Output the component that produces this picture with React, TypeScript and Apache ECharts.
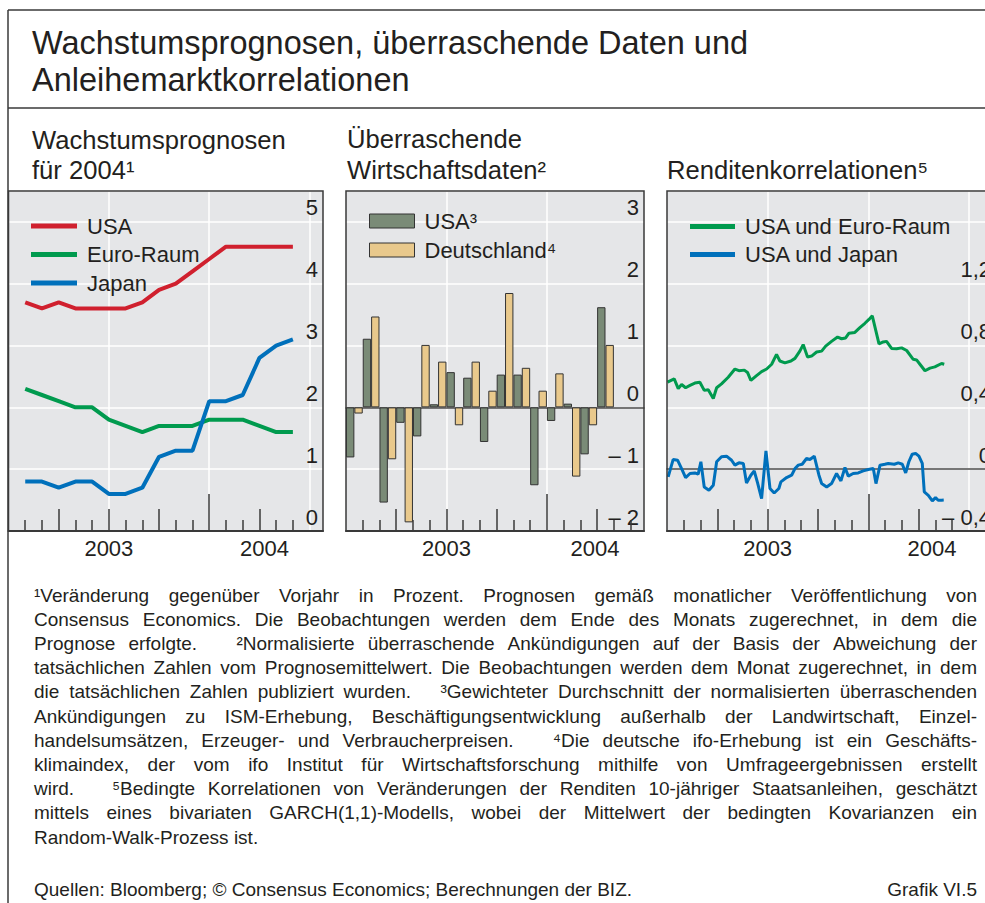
import React, { useEffect, useRef } from 'react';
import * as echarts from 'echarts';

const FONT = "'Liberation Sans', Arial, Helvetica, sans-serif";
const TEXT = '#231f20';
const FRAME = '#3a3a3a';
const PLOT_BG = '#e5e6e8';

// ---------- Panel 1: Wachstumsprognosen für 2004 (end-of-month observations) ----------
const forecastMonths = [
  '2003-01', '2003-02', '2003-03', '2003-04', '2003-05', '2003-06', '2003-07', '2003-08', '2003-09',
  '2003-10', '2003-11', '2003-12', '2004-01', '2004-02', '2004-03', '2004-04', '2004-05',
];
const forecastUSA = [3.7, 3.6, 3.7, 3.6, 3.6, 3.6, 3.6, 3.7, 3.9, 4.0, 4.2, 4.4, 4.6, 4.6, 4.6, 4.6, 4.6];
const forecastEuro = [2.3, 2.2, 2.1, 2.0, 2.0, 1.8, 1.7, 1.6, 1.7, 1.7, 1.7, 1.8, 1.8, 1.8, 1.7, 1.6, 1.6];
const forecastJapan = [0.8, 0.8, 0.7, 0.8, 0.8, 0.6, 0.6, 0.7, 1.2, 1.3, 1.3, 2.1, 2.1, 2.2, 2.8, 3.0, 3.1];

// ---------- Panel 2: Überraschende Wirtschaftsdaten (monthly) ----------
const surpriseMonths = [
  '2003-01', '2003-02', '2003-03', '2003-04', '2003-05', '2003-06', '2003-07', '2003-08',
  '2003-09', '2003-10', '2003-11', '2003-12', '2004-01', '2004-02', '2004-03', '2004-04',
];
const surpriseUSA = [-0.81, 1.11, -1.54, -0.25, -0.47, 0.05, 0.57, 0.48, -0.56, 0.53, 0.53, -1.26, -0.22, 0.06, -0.76, 1.62];
const surpriseDE = [-0.1, 1.47, -0.84, -1.86, 1.01, 0.74, -0.29, 0.74, 0.27, 1.85, 0.64, 0.27, 0.55, -1.12, -0.29, 1.01];

// ---------- Panel 3: Renditenkorrelationen [months since 1 Jan 2003, correlation] ----------
const corrUSEuro: [number, number][] = [
  [0.03, 0.563], [0.43, 0.584], [0.67, 0.521], [0.87, 0.548], [1.11, 0.527], [1.37, 0.542], [1.66, 0.557],
  [1.96, 0.563], [2.22, 0.51], [2.46, 0.514], [2.76, 0.457], [2.96, 0.527], [3.25, 0.552], [3.65, 0.595],
  [4.05, 0.648], [4.29, 0.637], [4.61, 0.641], [4.8, 0.626], [5.0, 0.574], [5.34, 0.605], [5.64, 0.631],
  [5.94, 0.648], [6.24, 0.679], [6.53, 0.743], [6.73, 0.7], [7.03, 0.688], [7.39, 0.7], [7.63, 0.717],
  [7.92, 0.764], [8.12, 0.806], [8.38, 0.726], [8.62, 0.732], [8.92, 0.758], [9.22, 0.764], [9.46, 0.796],
  [9.81, 0.827], [10.17, 0.855], [10.41, 0.844], [10.65, 0.849], [10.85, 0.88], [11.2, 0.885], [11.5, 0.916],
  [11.8, 0.944], [12.04, 0.969], [12.24, 0.992], [12.64, 0.811], [12.89, 0.823], [13.09, 0.827], [13.39, 0.781],
  [13.69, 0.779], [13.99, 0.785], [14.29, 0.768], [14.68, 0.711], [14.88, 0.707], [15.08, 0.679], [15.38, 0.637],
  [15.68, 0.654], [15.97, 0.662], [16.37, 0.684], [16.53, 0.679],
];
const corrUSJapan: [number, number][] = [
  [0.07, -0.05], [0.37, 0.063], [0.63, 0.058], [0.87, 0.004], [1.11, -0.054], [1.37, -0.028], [1.66, -0.024],
  [1.86, -0.032], [2.02, 0.048], [2.22, -0.115], [2.5, -0.136], [2.76, -0.104], [2.96, 0.048], [3.25, 0.08],
  [3.55, 0.084], [3.85, 0.058], [4.05, 0.026], [4.29, 0.041], [4.55, 0.037], [4.74, -0.089], [5.0, -0.039],
  [5.2, -0.011], [5.4, -0.089], [5.64, -0.19], [5.9, 0.119], [6.14, -0.125], [6.39, -0.154], [6.67, -0.125],
  [6.79, -0.082], [7.13, -0.054], [7.43, -0.039], [7.63, 0.004], [7.83, 0.026], [8.06, 0.032], [8.32, 0.069],
  [8.52, 0.063], [8.78, 0.084], [9.06, -0.039], [9.22, -0.093], [9.52, -0.115], [9.81, -0.093], [10.11, -0.028],
  [10.37, -0.076], [10.61, 0.011], [10.81, -0.045], [11.1, -0.028], [11.4, -0.024], [11.7, -0.011], [12.0, -0.002],
  [12.3, 0.004], [12.46, -0.093], [12.7, 0.026], [12.99, 0.032], [13.19, 0.037], [13.55, 0.032], [13.79, 0.041],
  [14.03, 0.032], [14.23, -0.024], [14.42, 0.048], [14.62, 0.097], [14.82, 0.102], [15.02, 0.084], [15.22, 0.037],
  [15.34, -0.147], [15.58, -0.169], [15.82, -0.205], [16.01, -0.184], [16.17, -0.201], [16.37, -0.201], [16.5, -0.2],
];

// ---------- Axis ticks / labels ----------
const yearLabels = ['2003', '2004'];
const monthTicks = [1, 2, 4, 5, 7, 8, 10, 11, 13, 14, 16, 17];
const quarterTicks = [3, 6, 9, 15];
const yearTicks = [12];
const halfYearLines = [6, 12, 18];
const yTicks1 = [0, 1, 2, 3, 4, 5];
const yTicks2 = [-2, -1, 0, 1, 2, 3];
const yTicks3 = [-0.4, 0, 0.4, 0.8, 1.2];

// ---------- Texts ----------
const titleLines = ['Wachstumsprognosen, überraschende Daten und', 'Anleihemarktkorrelationen'];
const footnoteLines = [
  '¹Veränderung gegenüber Vorjahr in Prozent. Prognosen gemäß monatlicher Veröffentlichung von',
  'Consensus Economics. Die Beobachtungen werden dem Ende des Monats zugerechnet, in dem die',
  'Prognose erfolgte.   ²Normalisierte überraschende Ankündigungen auf der Basis der Abweichung der',
  'tatsächlichen Zahlen vom Prognosemittelwert. Die Beobachtungen werden dem Monat zugerechnet, in dem',
  'die tatsächlichen Zahlen publiziert wurden.   ³Gewichteter Durchschnitt der normalisierten überraschenden',
  'Ankündigungen zu ISM-Erhebung, Beschäftigungsentwicklung außerhalb der Landwirtschaft, Einzel-',
  'handelsumsätzen, Erzeuger- und Verbraucherpreisen.   ⁴Die deutsche ifo-Erhebung ist ein Geschäfts-',
  'klimaindex, der vom ifo Institut für Wirtschaftsforschung mithilfe von Umfrageergebnissen erstellt',
  'wird.   ⁵Bedingte Korrelationen von Veränderungen der Renditen 10-jähriger Staatsanleihen, geschätzt',
  'mittels eines bivariaten GARCH(1,1)-Modells, wobei der Mittelwert der bedingten Kovarianzen ein',
  'Random-Walk-Prozess ist.',
];
const sourceText = 'Quellen: Bloomberg; © Consensus Economics; Berechnungen der BIZ.';
const chartId = 'Grafik VI.5';

const FN_LEFT = 34;
const FN_WIDTH = 943;
const FN_TOP = 595;
const FN_STEP = 24.2;
const FN_SIZE = 19;

function monthIdx(s: string) {
  const [y, m] = s.split('-').map(Number);
  return (y - 2003) * 12 + (m - 1);
}

const tickLine = { color: FRAME, width: 1.5 };

function panelXAxes(gi: number, max: number, pos2004: number, zeroLine: boolean) {
  const base: any = {
    type: 'value', gridIndex: gi, min: 0, max, position: 'bottom',
    axisLine: { show: false, onZero: false }, axisTick: { show: false },
    axisLabel: { show: false }, splitLine: { show: false },
  };
  const axes: any[] = [
    {
      ...base, z: 1,
      axisLine: { show: true, onZero: false, lineStyle: { color: FRAME, width: 2 } },
      axisTick: { show: true, inside: true, length: 11, customValues: monthTicks, lineStyle: tickLine },
      axisLabel: {
        show: true, customValues: [6, pos2004],
        formatter: (v: number) => (v === 6 ? yearLabels[0] : yearLabels[1]),
        fontSize: 22, fontFamily: FONT, color: TEXT, margin: 6,
      },
    },
    { ...base, z: 1, axisTick: { show: true, inside: true, length: 22, customValues: quarterTicks, lineStyle: tickLine } },
    { ...base, z: 1, axisTick: { show: true, inside: true, length: 37, customValues: yearTicks, lineStyle: tickLine } },
    {
      ...base, interval: 6,
      axisTick: { show: false, customValues: halfYearLines },
      splitLine: { show: true, lineStyle: { color: '#ffffff', width: 1.5 } },
    },
  ];
  if (zeroLine) {
    axes.push({ ...base, z: 1, axisLine: { show: true, onZero: true, lineStyle: { color: '#4a4a4a', width: 1.5 } } });
  }
  return axes;
}

function panelYAxis(
  gi: number, min: number, max: number, interval: number, labels: number[],
  fmt: (v: number) => string, offset = 0,
) {
  return {
    type: 'value', gridIndex: gi, position: 'right', offset, min, max, interval,
    axisLine: { show: false, onZero: false }, axisTick: { show: false },
    splitLine: { show: true, lineStyle: { color: '#ffffff', width: 1.5 } },
    axisLabel: {
      inside: true, customValues: labels, formatter: fmt, fontSize: 22, fontFamily: FONT, color: TEXT,
      margin: 5, verticalAlign: 'bottom', padding: [0, 0, 3, 0],
    },
  };
}

const fmtInt = (v: number) => (v < 0 ? '– ' + Math.abs(v) : String(v));
const fmtDec = (v: number) => {
  if (Math.abs(v) < 1e-9) return '0';
  const s = Math.abs(v).toFixed(1).replace('.', ',');
  return v < 0 ? '– ' + s : s;
};

function buildTextGraphics() {
  const els: any[] = [];
  const txt = (text: string, x: number, y: number, size: number, align = 'left') => ({
    type: 'text', x, y, z: 100, silent: true,
    style: { text, fontSize: size, fontFamily: FONT, fill: TEXT, align, verticalAlign: 'middle' },
  });
  els.push(txt(titleLines[0], 32, 43, 32.5));
  els.push(txt(titleLines[1], 32, 80, 32.5));
  els.push(txt('Wachstumsprognosen', 32, 140, 25.6));
  els.push(txt('für 2004¹', 32, 170, 25.6));
  els.push(txt('Überraschende', 347, 139, 25.6));
  els.push(txt('Wirtschaftsdaten²', 347, 170, 25.6));
  els.push(txt('Renditenkorrelationen⁵', 667, 170, 25.6));

  const ctx = document.createElement('canvas').getContext('2d')!;
  ctx.font = `${FN_SIZE}px ${FONT}`;
  const spaceW = ctx.measureText(' ').width;
  footnoteLines.forEach((line, i) => {
    const y = FN_TOP + i * FN_STEP;
    const words: string[] = [];
    const gaps: number[] = [];
    const re = /(\s*)(\S+)/g;
    let m: RegExpExecArray | null;
    while ((m = re.exec(line))) {
      if (words.length) gaps.push(m[1].length);
      words.push(m[2]);
    }
    const ww = words.map((w) => ctx.measureText(w).width);
    const spaces = gaps.reduce((a, b) => a + b, 0);
    const natural = ww.reduce((a, b) => a + b, 0) + spaces * spaceW;
    const justify = i < footnoteLines.length - 1;
    let extra = 0;
    let scale = 1;
    if (natural > FN_WIDTH) scale = FN_WIDTH / natural;
    else if (justify && spaces) extra = (FN_WIDTH - natural) / spaces;
    let cur = 0;
    words.forEach((w, k) => {
      const el: any = txt(w, FN_LEFT + cur * scale, y, FN_SIZE);
      el.scaleX = scale;
      els.push(el);
      cur += ww[k] + (k < gaps.length ? gaps[k] * (spaceW + extra) : 0);
    });
  });
  els.push(txt(sourceText, FN_LEFT, 889, FN_SIZE));
  els.push(txt(chartId, 977, 889, FN_SIZE, 'right'));

  // frames
  const ln = (x1: number, y1: number, x2: number, y2: number, w = 1.5) => ({
    type: 'line', z: 100, silent: true, shape: { x1, y1, x2, y2 }, style: { stroke: FRAME, lineWidth: w },
  });
  els.push(ln(8, 10, 985, 10));
  els.push(ln(8, 10, 8, 903));
  els.push(ln(8, 108, 985, 108));
  const frame = (x: number, w: number) => ({
    type: 'rect', z: 100, silent: true, shape: { x, y: 191, width: w, height: 340 },
    style: { fill: 'none', stroke: FRAME, lineWidth: 1.5 },
  });
  els.push(frame(8.5, 314.5));
  els.push(frame(346, 298));
  els.push(frame(667, 329));
  return els;
}

function buildOption(): any {
  const grids = [
    { left: 8.5, top: 191, width: 314.5, height: 340 },
    { left: 346, top: 191, width: 298, height: 340 },
    { left: 667, top: 191, width: 318, height: 340 },
  ].map((g) => ({
    ...g, show: true, backgroundColor: PLOT_BG, borderWidth: 0, containLabel: false, outerBoundsMode: 'none',
  }));

  const xAxis = [
    ...panelXAxes(0, 18.8, 15.3, false), // 0..3
    ...panelXAxes(1, 17.8, 14.87, true), // 4..8
    ...panelXAxes(2, 18.96, 15.8, true), // 9..13
  ];
  const yAxis = [
    panelYAxis(0, 0, 5.5, 1, yTicks1, fmtInt),
    panelYAxis(1, -2, 3.5, 1, yTicks2, fmtInt),
    panelYAxis(2, -0.4, 1.8, 0.4, yTicks3, fmtDec, 11),
  ];

  const line = (name: string, data: number[][], color: string, xi: number, yi: number, w: number) => ({
    type: 'line', name, data, xAxisIndex: xi, yAxisIndex: yi, color, symbol: 'none', z: 3,
    lineStyle: { width: w, color }, emphasis: { disabled: true },
  });
  const fx = forecastMonths.map((m) => monthIdx(m) + 1);
  const sx = surpriseMonths.map((m) => monthIdx(m) + 0.5);

  const series: any[] = [
    line('USA', fx.map((x, i) => [x, forecastUSA[i]]), '#d0202e', 0, 0, 4),
    line('Euro-Raum', fx.map((x, i) => [x, forecastEuro[i]]), '#009a4e', 0, 0, 4),
    line('Japan', fx.map((x, i) => [x, forecastJapan[i]]), '#0070bb', 0, 0, 4),
    {
      type: 'bar', name: 'USA³', data: sx.map((x, i) => [x, surpriseUSA[i]]), xAxisIndex: 4, yAxisIndex: 1,
      barGap: '0%', barCategoryGap: '0%', color: '#7a8b77', z: 3,
      itemStyle: { color: '#7a8b77', borderColor: '#333333', borderWidth: 1 },
    },
    {
      type: 'bar', name: 'Deutschland⁴', data: sx.map((x, i) => [x, surpriseDE[i]]), xAxisIndex: 4, yAxisIndex: 1,
      barGap: '0%', barCategoryGap: '0%', color: '#e9c98c', z: 3,
      itemStyle: { color: '#e9c98c', borderColor: '#333333', borderWidth: 1 },
    },
    line('USA und Euro-Raum', corrUSEuro, '#009a4e', 9, 2, 3),
    line('USA und Japan', corrUSJapan, '#0070bb', 9, 2, 3),
  ];

  const legendBase = {
    orient: 'vertical', padding: 0, icon: 'rect', selectedMode: false,
    textStyle: { fontSize: 22, lineHeight: 22, fontFamily: FONT, color: TEXT, padding: [0, 0, 0, 5] },
  };
  // line legends: text sits ~5px above the swatch centre
  const lineLegendText = { fontSize: 22, lineHeight: 22, fontFamily: FONT, color: TEXT, padding: [0, 0, 10, 5] };
  const legend = [
    {
      ...legendBase, textStyle: lineLegendText, data: ['USA', 'Euro-Raum', 'Japan'],
      left: 31, top: 210, itemWidth: 46, itemHeight: 5, itemGap: -3.5,
    },
    {
      ...legendBase, data: ['USA³', 'Deutschland⁴'], left: 369, top: 210, itemWidth: 45, itemHeight: 14, itemGap: 7,
      itemStyle: { borderColor: '#333333', borderWidth: 1 },
    },
    {
      ...legendBase, textStyle: lineLegendText, data: ['USA und Euro-Raum', 'USA und Japan'],
      left: 690, top: 210.5, itemWidth: 45, itemHeight: 5, itemGap: -4,
    },
  ];

  return {
    animation: false,
    backgroundColor: '#ffffff',
    textStyle: { fontFamily: FONT },
    grid: grids,
    xAxis,
    yAxis,
    series,
    legend,
    graphic: { elements: buildTextGraphics() },
  };
}

export default function App() {
  const ref = useRef<HTMLDivElement>(null);
  useEffect(() => {
    const chart = echarts.init(ref.current!, undefined, { renderer: 'svg' });
    chart.setOption(buildOption());
    return () => chart.dispose();
  }, []);
  return (
    <div
      ref={ref}
      style={{ position: 'absolute', left: 0, top: 0, width: 985, height: 903, background: '#ffffff' }}
    />
  );
}
